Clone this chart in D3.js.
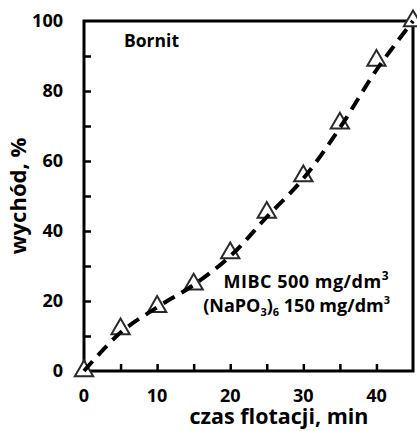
<!DOCTYPE html>
<html>
<head>
    <meta charset="utf-8">
    <style>
        body { margin: 0; background: #fff; }
        text { font-family: "Open Sans", sans-serif; font-weight: bold; fill: #000; }
    </style>
</head>
<body>
    <svg width="417" height="431"></svg>
    <script src="https://d3js.org/d3.v7.min.js"></script>
    <script>
        // czas flotacji [min] vs wychód [%]
        let times = [0, 5, 10, 15, 20, 25, 30, 35, 40, 45];
        let recovery = [0, 12, 18.4, 24.8, 33.7, 45.3, 55.7, 70.8, 88.7, 100];
        // dashed trend line
        let trend = [0, 11, 18.2, 24.6, 32.8, 44, 55, 69.5, 86, 100];
        let xTicks = [0, 10, 20, 30, 40];
        let yTicks = [0, 20, 40, 60, 80, 100];

        let svg = d3.select("svg");
        let x = d3.scaleLinear().domain([0, 45]).range([84, 413]);
        let y = d3.scaleLinear().domain([0, 100]).range([371, 21]);

        // frame
        svg.append("rect")
            .attr("x", x(0)).attr("y", y(100))
            .attr("width", x(45) - x(0)).attr("height", y(0) - y(100))
            .attr("fill", "none").attr("stroke", "#000").attr("stroke-width", 3);

        // inward ticks
        svg.append("g")
            .attr("transform", `translate(0,${y(0)})`)
            .call(d3.axisTop(x).tickValues(d3.range(0, 45, 5)).tickSize(7).tickFormat(""))
            .call(g => g.select(".domain").remove())
            .call(g => g.selectAll("line").attr("stroke-width", 2.5));
        svg.append("g")
            .attr("transform", `translate(${x(0)},0)`)
            .call(d3.axisRight(y).tickValues(d3.range(0, 100, 10)).tickSize(7).tickFormat(""))
            .call(g => g.select(".domain").remove())
            .call(g => g.selectAll("line").attr("stroke-width", 2.5));

        // tick labels
        svg.selectAll(".xl").data(xTicks).enter().append("text")
            .attr("x", d => x(d)).attr("y", 402)
            .attr("text-anchor", "middle").style("font-size", "18px")
            .text(d => d);
        svg.selectAll(".yl").data(yTicks).enter().append("text")
            .attr("x", 63).attr("y", d => y(d)).attr("dy", "0.36em")
            .attr("text-anchor", "end").style("font-size", "18px")
            .text(d => d);

        // axis titles
        svg.append("text")
            .attr("x", 279).attr("y", 424)
            .attr("text-anchor", "middle").style("font-size", "21.5px")
            .text("czas flotacji, min");
        svg.append("text")
            .attr("transform", "translate(26,196) rotate(-90)")
            .attr("text-anchor", "middle").style("font-size", "22px")
            .text("wychód, %");

        // markers
        svg.selectAll(".pt").data(times).enter().append("path")
            .attr("d", d3.symbol().type(d3.symbolTriangle).size(145))
            .attr("transform", (d, i) => `translate(${x(d)},${y(recovery[i])})`)
            .attr("fill", "#fff").attr("stroke", "#2a2a2a").attr("stroke-width", 2);

        // dashed trend
        let line = d3.line()
            .x((d, i) => x(times[i]))
            .y(d => y(d))
            .curve(d3.curveCatmullRom);
        svg.append("path")
            .datum(trend)
            .attr("d", line)
            .attr("fill", "none").attr("stroke", "#000")
            .attr("stroke-width", 4).attr("stroke-dasharray", "13,8");

        // annotations
        svg.append("text")
            .attr("x", 124).attr("y", 47).style("font-size", "17.5px")
            .text("Bornit");
        let t1 = svg.append("text").attr("x", 389).attr("y", 288)
            .attr("text-anchor", "end").style("font-size", "18px")
            .style("letter-spacing", "0.5px");
        t1.append("tspan").text("MIBC 500 mg/dm");
        t1.append("tspan").attr("dy", -8).style("font-size", "12px").text("3");
        let t2 = svg.append("text").attr("x", 390).attr("y", 312)
            .attr("text-anchor", "end").style("font-size", "18px");
        t2.append("tspan").text("(NaPO");
        t2.append("tspan").attr("dy", 4).style("font-size", "11px").text("3");
        t2.append("tspan").attr("dy", -4).text(")");
        t2.append("tspan").attr("dy", 4).style("font-size", "11px").text("6");
        t2.append("tspan").attr("dy", -4).text(" 150 mg/dm");
        t2.append("tspan").attr("dy", -8).style("font-size", "11px").text("3");
    </script>
</body>
</html>
